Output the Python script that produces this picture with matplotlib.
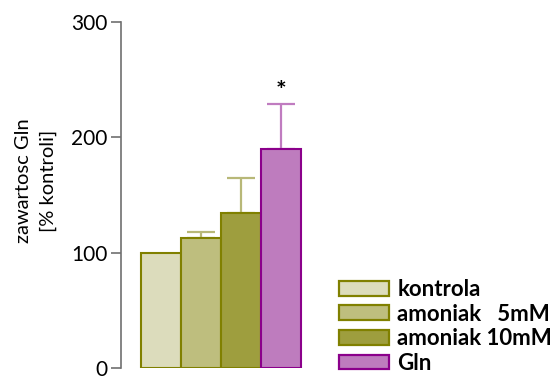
import matplotlib
matplotlib.use("Agg")
import matplotlib.pyplot as plt
from matplotlib.patches import Patch

plt.rcParams['font.family'] = ['Lato', 'DejaVu Sans']

groups = ["kontrola", "amoniak   5mM", "amoniak 10mM", "Gln"]
means = [100, 113, 134, 190]
errors = [0, 5, 31, 39]
fills = ["#dcdcbc", "#bebe7e", "#9e9e3e", "#be7cbe"]
edges = ["#808000", "#808000", "#808000", "#8b008b"]
err_colors = ["#b8b878", "#b8b878", "#b8b878", "#c07cc0"]
yticks = [0, 100, 200, 300]
star_group = 3

fig = plt.figure(figsize=(5.56, 3.76), dpi=100)
ax = fig.add_axes([121.3 / 556, 8 / 376, 200 / 556, 346 / 376])

x = list(range(len(groups)))
for i in x:
    ax.bar(i, means[i], width=1.0, color=fills[i], edgecolor=edges[i],
           linewidth=1.5, zorder=2)
    if errors[i] > 0:
        ax.errorbar(i, means[i], yerr=[[0], [errors[i]]], fmt='none',
                    ecolor=err_colors[i], elinewidth=1.6, capsize=10,
                    capthick=1.6, zorder=1)

ax.text(star_group, means[star_group] + errors[star_group] + 11, "*",
        ha="center", va="center", fontsize=18, fontweight="bold")

ax.set_xlim(-1.0, 4.0)
ax.set_ylim(0, 300)
ax.set_yticks(yticks)
ax.set_xticks([])
for s in ["top", "right", "bottom"]:
    ax.spines[s].set_visible(False)
ax.spines["left"].set_color("#707070")
ax.spines["left"].set_linewidth(1.2)
ax.tick_params(axis="y", length=7, width=1.2, color="#707070",
               labelsize=15, pad=3)

fig.text(36 / 556, 1 - 181 / 376, "zawartosc Gln\n[% kontroli]",
         rotation=90, ha="center", va="center", multialignment="center",
         fontsize=14.5, linespacing=1.5)

handles = [Patch(facecolor=fills[i], edgecolor=edges[i], linewidth=1.6)
           for i in x]
leg = fig.legend(handles, groups, loc="upper left",
                 bbox_to_anchor=(339 / 556, 1 - 279 / 376),
                 frameon=False, handlelength=2.27, handleheight=0.64,
                 handletextpad=0.36, labelspacing=0.16, borderpad=0,
                 borderaxespad=0,
                 prop={"weight": "bold", "size": 16})

fig.savefig("out.png", dpi=100)
